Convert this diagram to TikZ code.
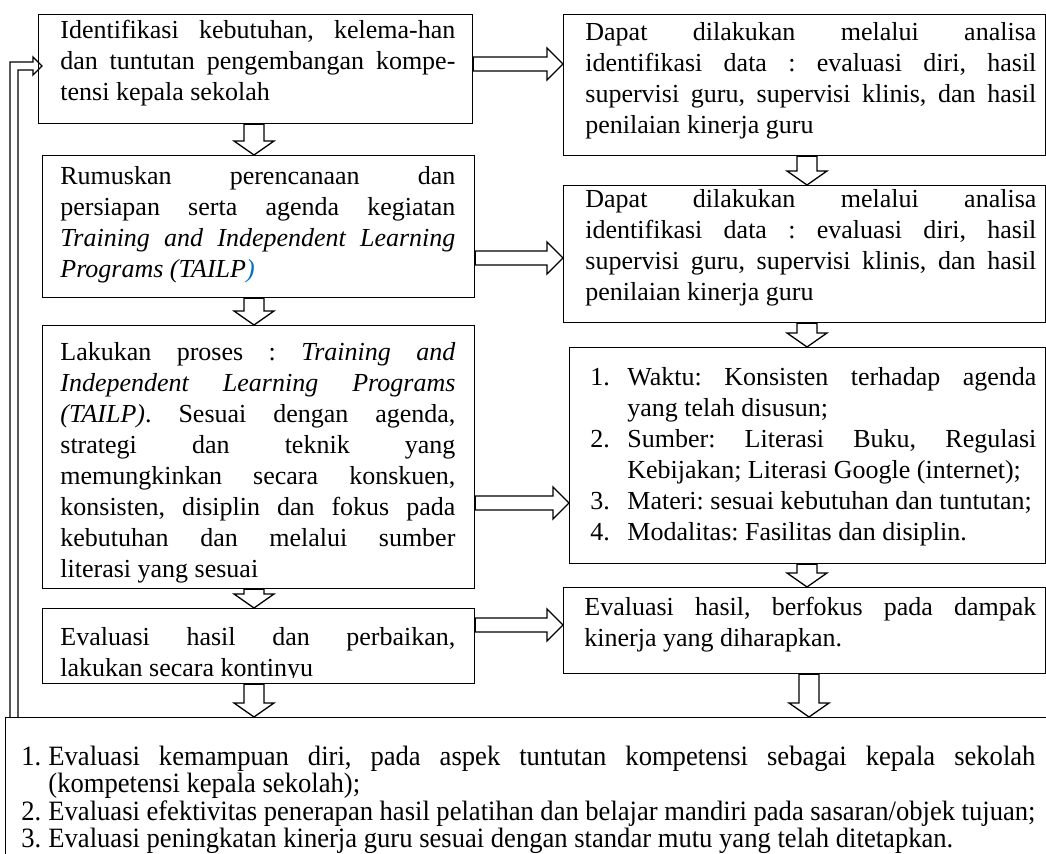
\documentclass[tikz,border=0pt]{standalone}
\usepackage{fontspec}
\setmainfont{Liberation Serif}
\newfontfamily\listfont[FakeStretch=0.95]{Liberation Serif}
\usetikzlibrary{calc}

\definecolor{linkblue}{RGB}{0,112,192}
\frenchspacing
\tolerance=10000
\hbadness=10000
\lineskiplimit=-10pt

\newcommand\numline[3]{%
  \par\noindent\hangindent=#1\hangafter=1\makebox[#1][l]{#2}#3\par}
\newcommand\rightblock[2]{%
  \draw[block] ($(#1)+(0,-7)$) -- ($(#2)+(-16,-7)$) -- ($(#2)+(-16,-16)$)
    -- (#2) -- ($(#2)+(-16,16)$) -- ($(#2)+(-16,7)$) -- ($(#1)+(0,7)$) -- cycle;}
\newcommand\downblock[2]{%
  \draw[block] ($(#1)+(-10,0)$) -- ($(#2)+(-10,-14)$) -- ($(#2)+(-20,-14)$)
    -- (#2) -- ($(#2)+(20,-14)$) -- ($(#2)+(10,-14)$) -- ($(#1)+(10,0)$) -- cycle;}

\begin{document}
\begin{tikzpicture}[x=0.5pt, y=-0.5pt,
  box/.style   = { draw, line width=0.65pt, anchor=north west, inner sep=0pt },
  words/.style = { anchor=north west, inner sep=0pt, align=justify,
                   font=\fontsize{13}{15.5}\selectfont },
  block/.style = { draw, line width=0.65pt, fill=white, line join=miter }]
  \path[use as bounding box, clip] (0,0) rectangle (1046,854);

  \node[box, minimum width=217pt, minimum height=54.5pt] (id)     at (38,14)  {};
  \node[box, minimum width=216pt, minimum height=71pt]   (plan)   at (42,155) {};
  \node[box, minimum width=216pt, minimum height=131.5pt](proc)   at (42,325) {};
  \node[box, minimum width=216pt, minimum height=37.5pt] (eval)   at (42,608) {};
  \node[box, minimum width=241pt, minimum height=70.5pt] (data1)  at (563,14) {};
  \node[box, minimum width=241pt, minimum height=68.5pt] (data2)  at (563,185) {};
  \node[box, minimum width=238pt, minimum height=108pt]  (rules)  at (569,347) {};
  \node[box, minimum width=241pt, minimum height=43pt]   (impact) at (563,587) {};
  \node[box, minimum width=550pt, minimum height=80pt]   (result) at (5,717)  {};

  \downblock{id.south -| 254,0}{plan.north -| 254,0}
  \downblock{plan.south -| 254,0}{proc.north -| 254,0}
  \downblock{proc.south -| 254,0}{eval.north -| 254,0}
  \downblock{eval.south -| 254,0}{result.north -| 254,0}
  \downblock{data1.south -| 807,0}{data2.north -| 807,0}
  \downblock{data2.south -| 807,0}{rules.north -| 807,0}
  \downblock{rules.south -| 807,0}{impact.north -| 807,0}
  \downblock{impact.south -| 809,0}{result.north -| 809,0}

  \rightblock{id.east |- 0,64}{data1.west |- 0,64}
  \rightblock{plan.east |- 0,258}{data2.west |- 0,258}
  \rightblock{proc.east |- 0,503}{rules.west |- 0,503}
  \rightblock{eval.east |- 0,625}{impact.west |- 0,625}

  \draw[line width=0.65pt, line join=miter]
    (result.north -| 10,0) |- (33,62) -- (33,57) -- ($(id.west |- 0,66)+(4,0)$)
    -- (33,75) -- (33,70) -| (result.north -| 18,0);

  \node[words, text width=197.5pt] (id-t) at (60,20)
    {Identifikasi kebutuhan, kelema-han\linebreak
     dan tuntutan pengembangan kompe-\linebreak
     tensi kepala sekolah};
  \begin{scope}
    \clip (42,155) rectangle (474,289);
    \node[words, text width=197.5pt] (plan-t) at (60,166)
      {Rumuskan perencanaan dan\linebreak
       persiapan serta agenda kegiatan\linebreak
       \textit{Training and Independent Learning}\linebreak
       \textit{Programs (TAILP}\textcolor{linkblue}{\textit{)}}};
  \end{scope}
  \node[words, text width=197.5pt] (proc-t) at (60,342)
    {Lakukan proses : \textit{Training and}\linebreak
     \textit{Independent Learning Programs}\linebreak
     \textit{(TAILP)}. Sesuai dengan agenda,\linebreak
     strategi dan teknik yang\linebreak
     memungkinkan secara konskuen,\linebreak
     konsisten, disiplin dan fokus pada\linebreak
     kebutuhan dan melalui sumber\linebreak
     literasi yang sesuai};
  \begin{scope}
    \clip (42,608) rectangle (474,678);
    \node[words, text width=197.5pt] (eval-t) at (60,627)
      {Evaluasi hasil dan perbaikan,\linebreak
       lakukan secara kontinyu};
  \end{scope}

  \node[words, text width=225.5pt] (data1-t) at (585,22)
    {Dapat dilakukan melalui analisa\linebreak
     identifikasi data : evaluasi diri, hasil\linebreak
     supervisi guru, supervisi klinis, dan hasil\linebreak
     penilaian kinerja guru};
  \begin{scope}
    \clip (563,185) rectangle (1046,313);
    \node[words, text width=225.5pt] (data2-t) at (585,189)
      {Dapat dilakukan melalui analisa\linebreak
       identifikasi data : evaluasi diri, hasil\linebreak
       supervisi guru, supervisi klinis, dan hasil\linebreak
       penilaian kinerja guru};
  \end{scope}
  \node[words, text width=223pt] (rules-t) at (590,354)
    {\numline{18.5pt}{1.}{Waktu: Konsisten terhadap agenda\linebreak yang telah disusun;}
     \numline{18.5pt}{2.}{Sumber: Literasi Buku, Regulasi\linebreak Kebijakan; Literasi Google (internet);}
     \numline{18.5pt}{3.}{Materi: sesuai kebutuhan dan tuntutan;}
     \numline{18.5pt}{4.}{Modalitas: Fasilitas dan disiplin.}};
  \node[words, text width=226pt] (impact-t) at (584,597)
    {Evaluasi hasil, berfokus pada dampak\linebreak
     kinerja yang diharapkan.};

  \node[words, text width=507pt, font=\listfont\fontsize{14}{11.9}\selectfont] (result-t) at (21,741)
    {\numline{13.5pt}{1.}{Evaluasi kemampuan diri, pada aspek tuntutan kompetensi sebagai kepala sekolah\linebreak (kompetensi kepala sekolah);}
     \numline{13.5pt}{2.}{Evaluasi efektivitas penerapan hasil pelatihan dan belajar mandiri pada sasaran/objek tujuan;}
     \numline{13.5pt}{3.}{Evaluasi peningkatan kinerja guru sesuai dengan standar mutu yang telah ditetapkan.}};
\end{tikzpicture}
\end{document}
